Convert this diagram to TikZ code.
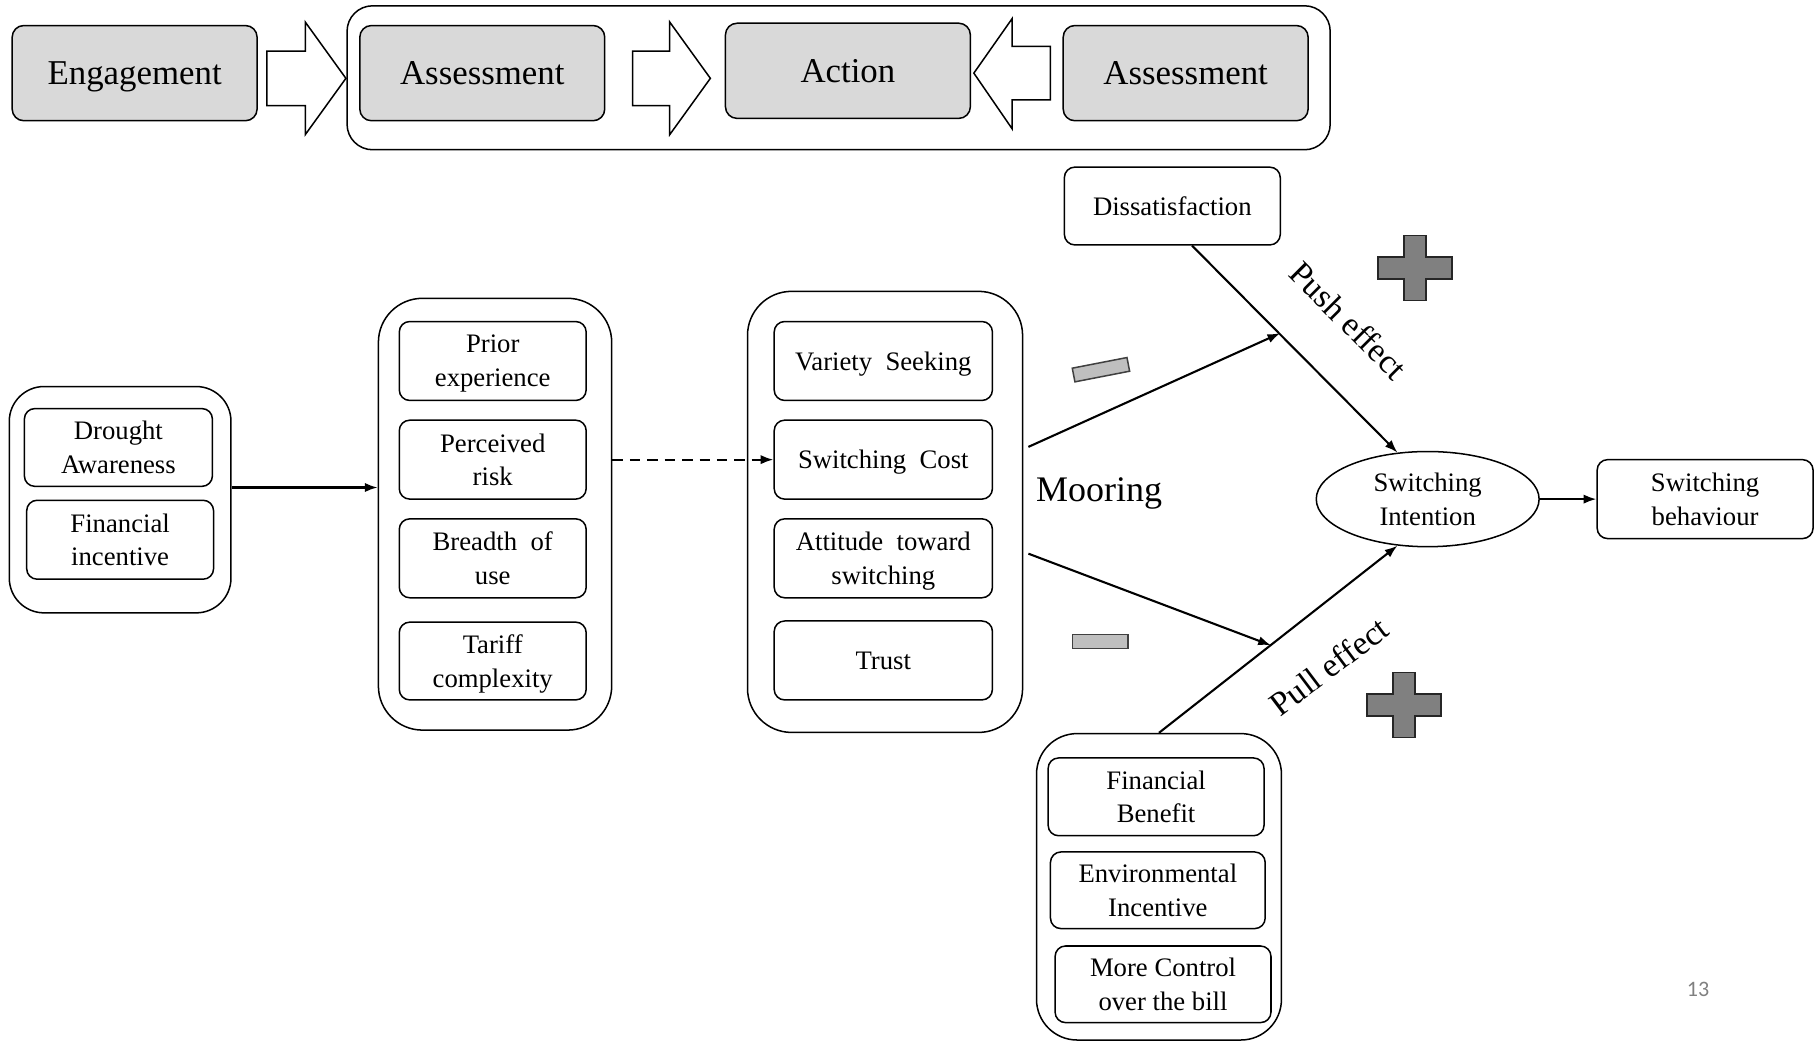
\documentclass[tikz,border=0pt]{standalone}
\usepackage{fontspec}
\setmainfont{Liberation Serif}
\newfontfamily\pgnumfont{Carlito}
\usetikzlibrary{shapes.geometric,arrows.meta,calc}
\tikzset{
  gbox/.style={draw, fill=black!15, rounded corners=10pt, line width=1.3pt, minimum width=211pt, minimum height=82pt, inner sep=0pt, text depth=0pt, font=\fontsize{30}{34}\selectfont},
  ibox/.style={draw, rounded corners=9pt, line width=1.3pt, inner sep=0pt, text depth=0pt, align=center, font=\fontsize{23}{29}\selectfont},
  grp/.style={draw, rounded corners=#1, line width=1.3pt, inner sep=0pt},
  bigarrow/.style={draw, fill=white, line width=1.3pt},
  conn/.style={line width=1.8pt, -{Latex[length=11pt,width=8pt]}},
  minusbar/.style={draw=black!75, fill=black!25, line width=1.3pt, minimum width=48pt, minimum height=12pt, inner sep=0pt},
  plussign/.style={draw=black!85, fill=black!50, line width=1.3pt},
  lbl/.style={font=\fontsize{29}{33}\selectfont},
  pluspic/.pic={\draw[plussign] (-9.5,-28) -- (9.5,-28) -- (9.5,-9.5) -- (32,-9.5) -- (32,9.5) -- (9.5,9.5) -- (9.5,28) -- (-9.5,28) -- (-9.5,9.5) -- (-32,9.5) -- (-32,-9.5) -- (-9.5,-9.5) -- cycle;}
}
\begin{document}
\begin{tikzpicture}[x=1pt,y=-1pt]
\useasboundingbox (0,0) rectangle (1568,897);

% top row
\node[grp=22pt, minimum width=847pt, minimum height=124pt] (top) at (722.5,67) {};
\node[gbox] (eng) at (116,63) {Engagement};
\node[gbox] (as1) at (415.5,63) {Assessment};
\node[gbox] (act) at (730.5,61) {Action};
\node[gbox] (as2) at (1021.5,63) {Assessment};
\draw[bigarrow] (230,44) -- (263,44) -- (263,19) -- (298,67.5) -- (263,116) -- (263,91) -- (230,91) -- cycle;
\draw[bigarrow] (545,44) -- (577,44) -- (577,19) -- (612,67.5) -- (577,116) -- (577,91) -- (545,91) -- cycle;
\draw[bigarrow] (905,40) -- (872,40) -- (872,16) -- (839,63) -- (872,111) -- (872,86) -- (905,86) -- cycle;

% left group
\node[grp=30pt, minimum width=191pt, minimum height=195pt] (g1) at (103.5,430.5) {};
\node[ibox, minimum width=162pt, minimum height=67pt] (da) at (102,385.5) {Drought\\Awareness};
\node[ibox, minimum width=161pt, minimum height=68pt] (fi) at (103.5,465) {Financial\\incentive};

% second group
\node[grp=38pt, minimum width=201pt, minimum height=372pt] (g2) at (426.5,443) {};
\node[ibox, minimum width=161pt, minimum height=68pt] (pe) at (424.5,311) {Prior\\experience};
\node[ibox, minimum width=161pt, minimum height=68pt] (pr) at (424.5,396) {Perceived\\risk};
\node[ibox, minimum width=161pt, minimum height=68pt] (bu) at (424.5,481) {Breadth~~of\\use};
\node[ibox, minimum width=161pt, minimum height=67pt] (tc) at (424.5,569.5) {Tariff\\complexity};

% third group
\node[grp=38pt, minimum width=237pt, minimum height=380pt] (g3) at (762.5,441) {};
\node[ibox, minimum width=188pt, minimum height=68pt] (vs) at (761,311) {Variety~~Seeking};
\node[ibox, minimum width=188pt, minimum height=68pt] (sc) at (761,396) {Switching~~Cost};
\node[ibox, minimum width=188pt, minimum height=68pt] (at) at (761,481) {Attitude~~toward\\switching};
\node[ibox, minimum width=188pt, minimum height=68pt] (tr) at (761,569) {Trust};

\node[font=\fontsize{31}{35}\selectfont] (moor) at (947,425) {Mooring};

% right part
\node[ibox, minimum width=186pt, minimum height=67pt] (diss) at (1010,177.5) {Dissatisfaction};
\node[draw, ellipse, line width=1.3pt, minimum width=192pt, minimum height=82pt, inner sep=0pt, text depth=0pt, align=center, font=\fontsize{23}{29}\selectfont] (si) at (1230,430) {Switching\\Intention};
\node[ibox, minimum width=186pt, minimum height=68pt] (sb) at (1469,430) {Switching\\behaviour};

% bottom group
\node[grp=35pt, minimum width=211pt, minimum height=264pt] (bg) at (998.5,764) {};
\node[ibox, minimum width=186pt, minimum height=67pt] (fb) at (996,686.5) {Financial\\Benefit};
\node[ibox, minimum width=185pt, minimum height=66pt] (ei) at (997.5,767) {Environmental\\Incentive};
\node[ibox, minimum width=186pt, minimum height=66pt] (mc) at (1002,848) {More Control\\over the bill};

% connectors
\coordinate (y420) at (0,420);
\draw[conn] (g1.east |- y420) -- (g2.west |- y420);
\draw[conn, dash pattern=on 9pt off 6pt] (g2.east |- sc.west) -- (sc.west);
\coordinate (m1s) at (886,385);
\coordinate (m1e) at (1103,287);
\coordinate (m2s) at (886,477);
\coordinate (m2e) at (1095,556);
\draw[conn] (m1s) -- (m1e);
\draw[conn] (m2s) -- (m2e);
\draw[conn] ($(diss.south)+(17,0)$) -- (si.123);
\draw[conn] (bg.north) -- (si.237);
\draw[conn] (si.east) -- (sb.west);

% labels and signs
\node[lbl, rotate=-45] (push) at (1162,276) {Push effect};
\node[lbl, rotate=37] (pull) at (1145,574) {Pull effect};
\node[minusbar, rotate=11] (mn1) at (948.5,318.5) {};
\node[minusbar] (mn2) at (948,552.5) {};
\pic at (1219,231) {pluspic};
\pic at (1209.5,607.5) {pluspic};

\node[font=\pgnumfont\fontsize{19}{22}\selectfont, text=black!50] (pg) at (1463,852) {13};
\end{tikzpicture}
\end{document}
